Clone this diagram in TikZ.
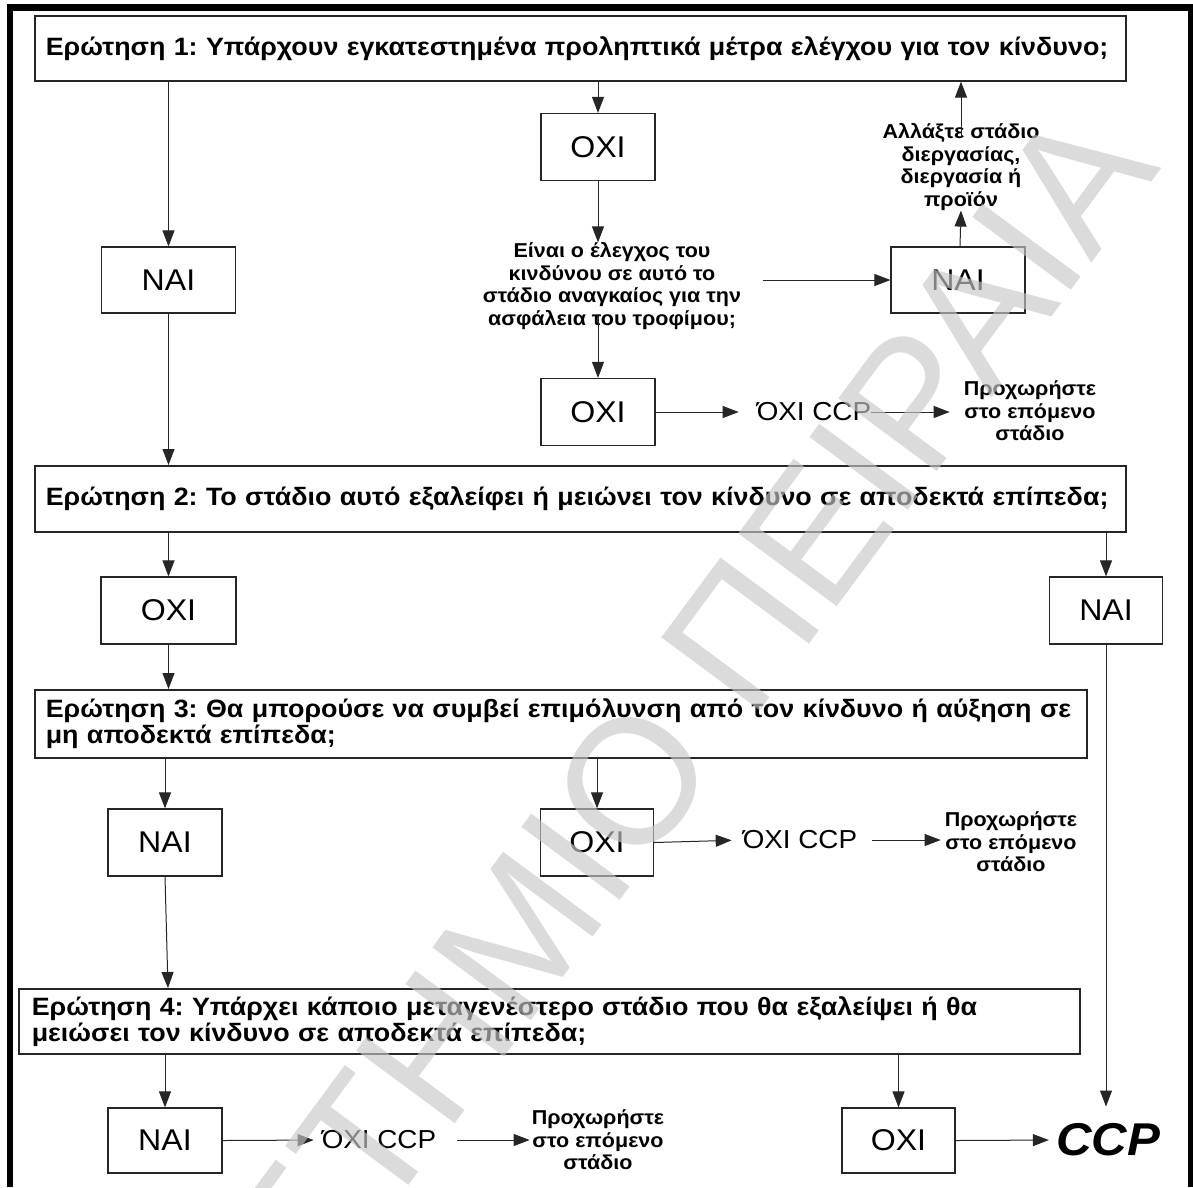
\documentclass[tikz,border=0pt]{standalone}
\usepackage{fontspec}
\setmainfont{Liberation Sans}[FakeStretch=1.07]
\newfontfamily\wmfont{Liberation Sans}
\usetikzlibrary{arrows.meta,calc}
\definecolor{wmgray}{gray}{0.78}
\frenchspacing
\begin{document}
\begin{tikzpicture}[x=1pt,y=-1pt,
  qbox/.style={draw=black!85, line width=1.6pt, inner xsep=11pt, inner ysep=0pt, align=left,
    font=\bfseries\fontsize{25.1}{26}\selectfont, anchor=north west},
  yn/.style={draw=black!85, line width=1.2pt, font=\fontsize{30}{30}\selectfont, inner sep=0pt},
  note/.style={font=\bfseries\fontsize{20.1}{22.5}\selectfont, align=center, inner sep=0pt},
  ccpt/.style={font=\fontsize{26}{26}\selectfont, inner sep=0pt},
  arr/.style={line width=1pt, draw=black!85, -{Triangle[length=16pt,width=12pt]}},
]
\useasboundingbox (0,0) rectangle (1193,1187);
% outer frame
\fill[black] (7,4) rectangle (13,1187);
\fill[black] (7,4) rectangle (1193,11);
\fill[black] (1188,4) rectangle (1193,1187);

% question boxes
\node[qbox, minimum width=1091pt, minimum height=65pt, text width=1069pt] (Q1) at (34,15)
  {\mbox{Ερώτηση 1: Υπάρχουν εγκατεστημένα προληπτικά μέτρα ελέγχου για τον κίνδυνο;}};
\node[qbox, minimum width=1091pt, minimum height=66pt, text width=1069pt] (Q2) at (34,465)
  {\mbox{Ερώτηση 2: Το στάδιο αυτό εξαλείφει ή μειώνει τον κίνδυνο σε αποδεκτά επίπεδα;}};
\node[qbox, minimum width=1052pt, minimum height=68pt, text width=1030pt] (Q3) at (34,689)
  {\mbox{Ερώτηση 3: Θα μπορούσε να συμβεί επιμόλυνση από τον κίνδυνο ή αύξηση σε}\\\mbox{μη αποδεκτά επίπεδα;}};
\node[qbox, inner xsep=13pt, minimum width=1061pt, minimum height=65pt, text width=1035pt] (Q4) at (18,988)
  {\mbox{Ερώτηση 4: Υπάρχει κάποιο μεταγενέστερο στάδιο που θα εξαλείψει ή θα}\\\mbox{μειώσει τον κίνδυνο σε αποδεκτά επίπεδα;}};

% yes / no boxes
\node[yn, minimum width=134pt, minimum height=66pt] (NAIa) at (168.5,280) {ΝΑΙ};
\node[yn, minimum width=114pt, minimum height=67pt] (OXIa) at (598,147) {ΟΧΙ};
\node[yn, minimum width=114pt, minimum height=67pt] (OXIb) at (598,412) {ΟΧΙ};
\node[yn, minimum width=134pt, minimum height=66pt] (NAIb) at (958,280) {ΝΑΙ};
\node[yn, minimum width=135pt, minimum height=67pt] (OXIc) at (168.5,610.5) {ΟΧΙ};
\node[yn, minimum width=113pt, minimum height=67pt] (NAIc) at (1106,610.5) {ΝΑΙ};
\node[yn, minimum width=114pt, minimum height=67pt] (NAId) at (165,842.5) {ΝΑΙ};
\node[yn, minimum width=113pt, minimum height=67pt] (OXId) at (597,842.5) {ΟΧΙ};
\node[yn, minimum width=114pt, minimum height=65pt] (NAIe) at (165,1140.5) {ΝΑΙ};
\node[yn, minimum width=113pt, minimum height=65pt] (OXIe) at (898.5,1140.5) {ΟΧΙ};

% free texts
\node[note] (t1) at (612,286) {Είναι ο έλεγχος του\\κινδύνου σε αυτό το\\στάδιο αναγκαίος για την\\ασφάλεια του τροφίμου;};
\node[note] (t2) at (961,167) {Αλλάξτε στάδιο\\διεργασίας,\\διεργασία ή\\προϊόν};
\node[note] (p1) at (1030,411) {Προχωρήστε\\στο επόμενο\\στάδιο};
\node[note] (p2) at (1011,842) {Προχωρήστε\\στο επόμενο\\στάδιο};
\node[note] (p3) at (598,1140) {Προχωρήστε\\στο επόμενο\\στάδιο};
\node[ccpt] (c1) at (814,412) {ΌΧΙ CCP};
\node[ccpt] (c2) at (800,840) {ΌΧΙ CCP};
\node[ccpt] (c3) at (379,1140) {ΌΧΙ CCP};
\node[inner sep=0pt, font=\bfseries\itshape\fontsize{46}{46}\selectfont] (CCP) at (1108,1140) {CCP};

% connectors
\draw[arr] (NAIa.north |- Q1.south) -- (NAIa.north);
\draw[arr] (OXIa.north |- Q1.south) -- (OXIa.north);
\draw[arr] (OXIa.south) -- (OXIa.south |- t1.north);
\draw[arr] ($(OXIb.north |- t1.south)+(0,-16)$) -- (OXIb.north);
\draw[arr] ($(t1.east |- NAIb.west)+(22,0)$) -- (NAIb.west);
\draw[arr] ($(NAIb.north)+(2,0)$) -- (t2.south);
\draw[arr] ($(t2.north)+(0,15)$) -- (t2.north |- Q1.south);
\draw[arr, shorten >=18pt] (OXIb.east) -- (c1.west);
\draw[arr, shorten >=14pt] (c1.east) -- (p1.west |- c1.east);
\draw[arr] (NAIa.south) -- (NAIa.south |- Q2.north);
\draw[arr] (OXIc.north |- Q2.south) -- (OXIc.north);
\draw[arr] (NAIc.north |- Q2.south) -- (NAIc.north);
\draw[arr] (OXIc.south) -- (OXIc.south |- Q3.north);
\draw[arr, shorten >=17pt] (NAIc.south) -- (NAIc.south |- CCP.north);
\draw[arr] (NAId.north |- Q3.south) -- (NAId.north);
\draw[arr] (OXId.north |- Q3.south) -- (OXId.north);
\draw[arr, shorten >=11pt] (OXId.east) -- (c2.west);
\draw[arr, shorten <=15pt, shorten >=4pt] (c2.east) -- (p2.west |- c2.east);
\draw[arr] (NAId.south) -- ([xshift=150pt]Q4.north west);
\draw[arr] (NAIe.north |- Q4.south) -- (NAIe.north);
\draw[arr] (OXIe.north |- Q4.south) -- (OXIe.north);
\draw[arr, shorten >=8pt] (NAIe.east) -- (c3.west);
\draw[arr, shorten <=21pt, shorten >=2pt] (c3.east) -- (p3.west |- c3.east);
\draw[arr, shorten >=7pt] (OXIe.east) -- (CCP.west);

% watermark
\begin{scope}
\clip (0,0) rectangle (1193,1187);
\node[rotate=53.5, anchor=base east, inner sep=0pt, text=wmgray, opacity=0.65,
  font=\wmfont\fontsize{178}{178}\selectfont] (wm) at (1162,168) {ΠΑΝΕΠΙΣΤΗΜΙΟ ΠΕΙΡΑΙΑ};
\end{scope}
\end{tikzpicture}
\end{document}
